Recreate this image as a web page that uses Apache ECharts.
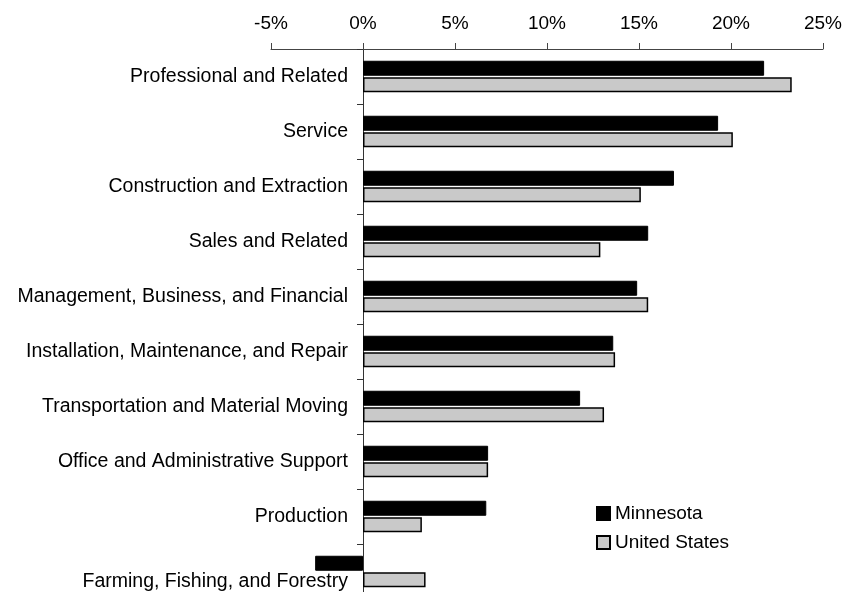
<!DOCTYPE html>
<html>
<head>
<meta charset="utf-8">
<script src="https://cdn.jsdelivr.net/npm/echarts@6/dist/echarts.min.js"></script>
<style>
  html, body { margin: 0; padding: 0; background: #fff; }
  #main { width: 844px; height: 592px; }
</style>
</head>
<body>
<div id="main"></div>
<script>
// occupations, top to bottom
var categories = [
    'Professional and Related',
    'Service',
    'Construction and Extraction',
    'Sales and Related',
    'Management, Business, and Financial',
    'Installation, Maintenance, and Repair',
    'Transportation and Material Moving',
    'Office and Administrative Support',
    'Production',
    'Farming, Fishing, and Forestry'
];
var minnesota = [21.8, 19.3, 16.9, 15.5, 14.9, 13.6, 11.8, 6.8, 6.7, -2.6];
var unitedStates = [23.3, 20.1, 15.1, 12.9, 15.5, 13.7, 13.1, 6.8, 3.2, 3.4];
var xTicks = [-5, 0, 5, 10, 15, 20, 25];

var font = 'Liberation Sans, Arial, sans-serif';
var gridLeft = 271, gridWidth = 552;
var xMin = xTicks[0], xMax = xTicks[xTicks.length - 1];
// category axis sits on the 0% line
var zeroOffset = (0 - xMin) / (xMax - xMin) * gridWidth;

var chart = echarts.init(document.getElementById('main'));
chart.setOption({
    animation: false,
    textStyle: { fontFamily: font },
    grid: { left: gridLeft, width: gridWidth, top: 49, height: 550, outerBoundsMode: 'none', containLabel: false },
    legend: {
        orient: 'vertical',
        left: 591,
        top: 499,
        icon: 'rect',
        itemWidth: 13,
        itemHeight: 13,
        itemGap: 10,
        textStyle: { fontSize: 19, color: '#000', fontFamily: font },
        data: ['Minnesota', 'United States']
    },
    xAxis: {
        type: 'value',
        position: 'top',
        min: xMin,
        max: xMax,
        interval: 5,
        axisLine: { show: true, lineStyle: { color: '#444', width: 1 } },
        axisTick: { show: true, length: 6, lineStyle: { color: '#444' } },
        axisLabel: { fontSize: 19, color: '#000', margin: 16, formatter: '{value}%' },
        splitLine: { show: false }
    },
    yAxis: {
        type: 'category',
        inverse: true,
        data: categories,
        offset: -zeroOffset,
        axisLine: { show: true, onZero: false, lineStyle: { color: '#333', width: 1 } },
        axisTick: { show: true, length: 6, lineStyle: { color: '#333' } },
        axisLabel: {
            fontSize: 19.5,
            color: '#000',
            margin: 15,
            // last label sits lower, under the negative bar
            formatter: function (v, i) {
                return i === categories.length - 1 ? '{low|' + v + '}' : v;
            },
            rich: {
                low: { fontSize: 19.5, color: '#000', padding: [20, 0, 0, 0] }
            }
        }
    },
    series: [
        {
            name: 'Minnesota',
            type: 'bar',
            data: minnesota,
            barWidth: 15,
            barGap: '10%',
            itemStyle: { color: '#000', borderColor: '#000', borderWidth: 1 }
        },
        {
            name: 'United States',
            type: 'bar',
            data: unitedStates,
            barWidth: 15,
            itemStyle: { color: '#c9c9c9', borderColor: '#000', borderWidth: 1.5 }
        }
    ]
});
</script>
</body>
</html>
